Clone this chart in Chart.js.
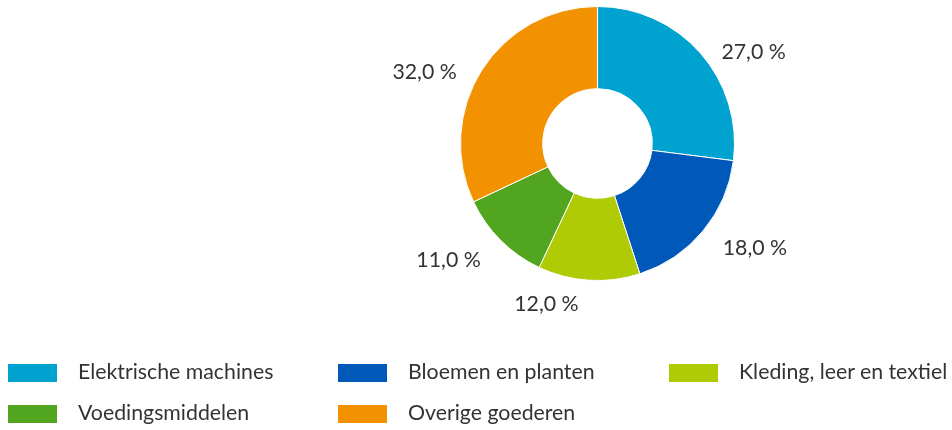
<!DOCTYPE html>
<html>
<head>
<meta charset="utf-8">
<script src="https://cdn.jsdelivr.net/npm/chart.js@4/dist/chart.umd.min.js"></script>
<style>
body { margin: 0; background: #fff; }
#wrap { position: relative; width: 952px; height: 430px; }
#chart { position: absolute; left: 0; top: 0; }
.leg { position: absolute; font-family: Lato, sans-serif; font-size: 21.3px; color: #333; white-space: nowrap; }
.leg span.box { position: absolute; left: 0; top: 0; width: 49px; height: 18px; }
.leg span.txt { position: absolute; left: 70px; top: -6px; }
</style>
</head>
<body>
<div id="wrap">
<canvas id="chart" width="952" height="430"></canvas>
</div>
<script>
const categories = ["Elektrische machines", "Bloemen en planten", "Kleding, leer en textiel", "Voedingsmiddelen", "Overige goederen"];
const shares = [27.0, 18.0, 12.0, 11.0, 32.0];
const colors = ["#00a2cf", "#0058b8", "#aecb05", "#52a51f", "#f39200"];

// label placement tweaks (degrees / px), like the original's best fit
const labelShift = [11, -6, 14, 7, -10];
const labelDist = [181, 189, 169, 189, 187];

const outLabels = {
  id: "outLabels",
  afterDatasetsDraw(chart) {
    const ctx = chart.ctx;
    const meta = chart.getDatasetMeta(0);
    ctx.save();
    ctx.font = "21.3px Lato, sans-serif";
    ctx.fillStyle = "#333";
    ctx.textAlign = "center";
    ctx.textBaseline = "middle";
    meta.data.forEach((arc, i) => {
      const mid = (arc.startAngle + arc.endAngle) / 2 + labelShift[i] * Math.PI / 180;
      const x = arc.x + Math.cos(mid) * labelDist[i];
      const y = arc.y + Math.sin(mid) * labelDist[i];
      ctx.fillText(shares[i].toFixed(1).replace(".", ",") + " %", x, y);
    });
    ctx.restore();
  }
};

new Chart(document.getElementById("chart"), {
  type: "doughnut",
  data: {
    labels: categories,
    datasets: [{
      data: shares,
      backgroundColor: colors,
      borderColor: "#fff",
      borderWidth: 1
    }]
  },
  options: {
    responsive: false,
    animation: false,
    cutout: "40%",
    layout: { padding: { top: 6, bottom: 149, left: 243, right: 0 } },
    plugins: {
      legend: { display: false },
      tooltip: { enabled: false }
    }
  },
  plugins: [outLabels]
});

// legend, 3 columns
const colX = [8, 338, 669];
const rowY = [364, 405];
const wrap = document.getElementById("wrap");
categories.forEach((c, i) => {
  const d = document.createElement("div");
  d.className = "leg";
  d.style.left = colX[i % 3] + "px";
  d.style.top = rowY[Math.floor(i / 3)] + "px";
  d.innerHTML = '<span class="box" style="background:' + colors[i] + '"></span><span class="txt">' + c + '</span>';
  wrap.appendChild(d);
});
</script>
</body>
</html>
